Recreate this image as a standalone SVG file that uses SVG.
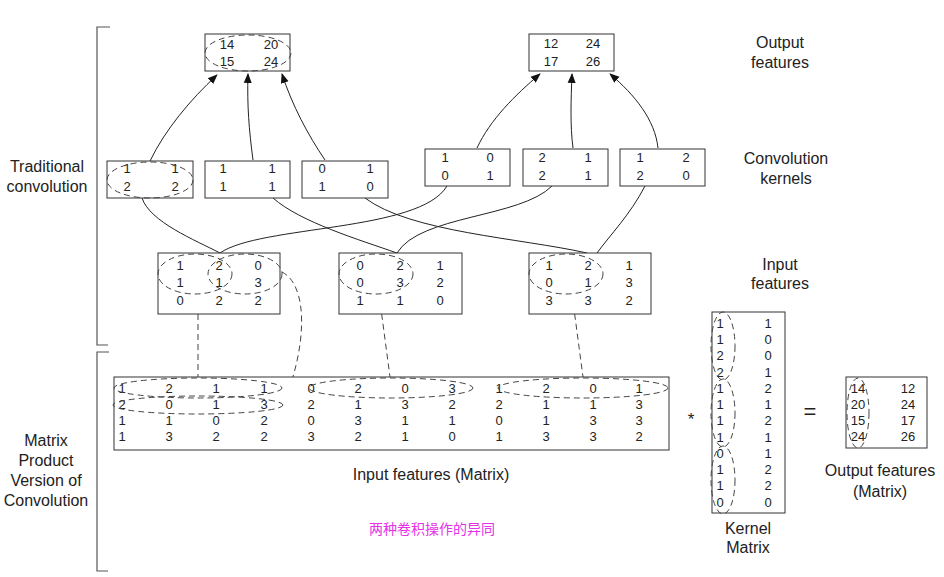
<svg xmlns="http://www.w3.org/2000/svg" width="944" height="577" viewBox="0 0 944 577">
<defs>
<style>
.box{fill:#fff;stroke:#333;stroke-width:1}
.n{font-family:"Liberation Sans",Arial,sans-serif;font-size:13px;fill:#222;text-anchor:middle}
.lbl{font-family:"Liberation Sans",Arial,sans-serif;font-size:16px;fill:#222;text-anchor:middle}
.dash{fill:none;stroke:#444;stroke-width:1;stroke-dasharray:6 4}
.wire{fill:none;stroke:#222;stroke-width:1}
.arr{fill:none;stroke:#222;stroke-width:1;marker-end:url(#ah)}
.br{fill:none;stroke:#555;stroke-width:1.2}
</style>
<marker id="ah" viewBox="0 0 10 10" refX="9" refY="5" markerWidth="10" markerHeight="10" markerUnits="userSpaceOnUse" orient="auto">
<path d="M0,1 L10,5 L0,9 z" fill="#111"/>
</marker>
</defs>
<rect width="944" height="577" fill="#fff"/>

<g id="brackets">
<path class="br" d="M110,27 H97 V345 H108"/>
<path class="br" d="M109,352 H97 V571 H108"/>
</g>

<g id="labels">
<text class="lbl" x="47" y="172">Traditional</text>
<text class="lbl" x="47" y="192">convolution</text>
<text class="lbl" x="46" y="446">Matrix</text>
<text class="lbl" x="46" y="466">Product</text>
<text class="lbl" x="46" y="486">Version of</text>
<text class="lbl" x="46" y="506">Convolution</text>
<text class="lbl" x="780" y="48">Output</text>
<text class="lbl" x="780" y="68">features</text>
<text class="lbl" x="786" y="164">Convolution</text>
<text class="lbl" x="786" y="184">kernels</text>
<text class="lbl" x="780" y="270">Input</text>
<text class="lbl" x="780" y="289">features</text>
<text class="lbl" x="431" y="480">Input features (Matrix)</text>
<text class="lbl" x="880" y="476">Output features</text>
<text class="lbl" x="880" y="497">(Matrix)</text>
<text class="lbl" x="748" y="534">Kernel</text>
<text class="lbl" x="748" y="553">Matrix</text>
<text x="432" y="534" style="font-family:'Liberation Sans','Noto Sans CJK SC',sans-serif;font-size:14px;fill:#e632e6;text-anchor:middle">两种卷积操作的异同</text>
<text class="lbl" x="691" y="425" style="font-size:17px">*</text>
<text class="lbl" x="810" y="419" style="font-size:22px">=</text>
</g>

<g id="connectors">
<path class="arr" d="M150,161 C165,130 190,100 217,75"/>
<path class="arr" d="M253,160 C249,130 247,105 248,74"/>
<path class="arr" d="M325,160 C308,135 292,105 282,74"/>
<path class="arr" d="M477,148 C490,120 515,95 540,74"/>
<path class="arr" d="M573,148 C570,125 571,100 572,74"/>
<path class="arr" d="M658,148 C655,120 635,95 610,74"/>
<path class="wire" d="M142,198 C150,222 195,240 220,253"/>
<path class="wire" d="M273,198 C300,222 360,240 397,253"/>
<path class="wire" d="M365,198 C410,232 520,238 587,253"/>
<path class="wire" d="M447,186 C420,232 260,225 220,253"/>
<path class="wire" d="M552,186 C520,218 420,215 397,253"/>
<path class="wire" d="M645,186 C630,215 610,235 597,253"/>
<path class="dash" d="M198,294 L198,377"/>
<path class="dash" d="M379,294 L390,377"/>
<path class="dash" d="M572,294 L583,377"/>
<path class="dash" d="M282,272 C308,285 308,345 283,405"/>
</g>

<g id="out-trad-1">
<rect class="box" x="205" y="34" width="85" height="37"/>
<text class="n" x="227" y="49">14</text><text class="n" x="271" y="49">20</text>
<text class="n" x="227" y="66">15</text><text class="n" x="271" y="66">24</text>
<ellipse class="dash" cx="248" cy="53" rx="43" ry="18"/>
</g>
<g id="out-trad-2">
<rect class="box" x="529" y="34" width="85" height="37"/>
<text class="n" x="551" y="48">12</text><text class="n" x="593" y="48">24</text>
<text class="n" x="551" y="66">17</text><text class="n" x="593" y="66">26</text>
</g>

<g id="kernel-1">
<rect class="box" x="107" y="161" width="86" height="37"/>
<text class="n" x="127" y="173">1</text><text class="n" x="175" y="173">1</text>
<text class="n" x="127" y="191">2</text><text class="n" x="175" y="191">2</text>
<ellipse class="dash" cx="150" cy="180" rx="43" ry="18"/>
</g>
<g id="kernel-2">
<rect class="box" x="205" y="161" width="85" height="37"/>
<text class="n" x="223" y="173">1</text><text class="n" x="272" y="173">1</text>
<text class="n" x="223" y="191">1</text><text class="n" x="272" y="191">1</text>
</g>
<g id="kernel-3">
<rect class="box" x="302" y="161" width="86" height="37"/>
<text class="n" x="322" y="173">0</text><text class="n" x="370" y="173">1</text>
<text class="n" x="322" y="191">1</text><text class="n" x="370" y="191">0</text>
</g>
<g id="kernel-4">
<rect class="box" x="425" y="149" width="85" height="37"/>
<text class="n" x="445" y="162">1</text><text class="n" x="490" y="162">0</text>
<text class="n" x="445" y="180">0</text><text class="n" x="490" y="180">1</text>
</g>
<g id="kernel-5">
<rect class="box" x="523" y="149" width="85" height="37"/>
<text class="n" x="542" y="162">2</text><text class="n" x="588" y="162">1</text>
<text class="n" x="542" y="180">2</text><text class="n" x="588" y="180">1</text>
</g>
<g id="kernel-6">
<rect class="box" x="620" y="149" width="85" height="37"/>
<text class="n" x="640" y="162">1</text><text class="n" x="686" y="162">2</text>
<text class="n" x="640" y="180">2</text><text class="n" x="686" y="180">0</text>
</g>

<g id="input-1">
<rect class="box" x="158" y="253" width="122" height="61"/>
<text class="n" x="180" y="270">1</text><text class="n" x="219" y="270">2</text><text class="n" x="258" y="270">0</text>
<text class="n" x="180" y="287">1</text><text class="n" x="219" y="287">1</text><text class="n" x="258" y="287">3</text>
<text class="n" x="180" y="305">0</text><text class="n" x="219" y="305">2</text><text class="n" x="258" y="305">2</text>
<ellipse class="dash" cx="195" cy="274" rx="37" ry="20"/>
<ellipse class="dash" cx="245" cy="274" rx="37" ry="20"/>
</g>
<g id="input-2">
<rect class="box" x="339" y="253" width="123" height="61"/>
<text class="n" x="360" y="270">0</text><text class="n" x="400" y="270">2</text><text class="n" x="440" y="270">1</text>
<text class="n" x="360" y="287">0</text><text class="n" x="400" y="287">3</text><text class="n" x="440" y="287">2</text>
<text class="n" x="360" y="305">1</text><text class="n" x="400" y="305">1</text><text class="n" x="440" y="305">0</text>
<ellipse class="dash" cx="376" cy="274" rx="37" ry="20"/>
</g>
<g id="input-3">
<rect class="box" x="529" y="253" width="122" height="61"/>
<text class="n" x="549" y="270">1</text><text class="n" x="588" y="270">2</text><text class="n" x="629" y="270">1</text>
<text class="n" x="549" y="287">0</text><text class="n" x="588" y="287">1</text><text class="n" x="629" y="287">3</text>
<text class="n" x="549" y="305">3</text><text class="n" x="588" y="305">3</text><text class="n" x="629" y="305">2</text>
<ellipse class="dash" cx="566" cy="274" rx="37" ry="20"/>
</g>

<g id="input-matrix">
<rect class="box" x="114" y="377" width="555" height="73"/>
<g class="n">
<text x="122" y="393">1</text><text x="169" y="393">2</text><text x="216" y="393">1</text><text x="264" y="393">1</text><text x="311" y="393">0</text><text x="358" y="393">2</text><text x="405" y="393">0</text><text x="452" y="393">3</text><text x="499" y="393">1</text><text x="546" y="393">2</text><text x="593" y="393">0</text><text x="639" y="393">1</text>
<text x="122" y="409">2</text><text x="169" y="409">0</text><text x="216" y="409">1</text><text x="264" y="409">3</text><text x="311" y="409">2</text><text x="358" y="409">1</text><text x="405" y="409">3</text><text x="452" y="409">2</text><text x="499" y="409">2</text><text x="546" y="409">1</text><text x="593" y="409">1</text><text x="639" y="409">3</text>
<text x="122" y="425">1</text><text x="169" y="425">1</text><text x="216" y="425">0</text><text x="264" y="425">2</text><text x="311" y="425">0</text><text x="358" y="425">3</text><text x="405" y="425">1</text><text x="452" y="425">1</text><text x="499" y="425">0</text><text x="546" y="425">1</text><text x="593" y="425">3</text><text x="639" y="425">3</text>
<text x="122" y="441">1</text><text x="169" y="441">3</text><text x="216" y="441">2</text><text x="264" y="441">2</text><text x="311" y="441">3</text><text x="358" y="441">2</text><text x="405" y="441">1</text><text x="452" y="441">0</text><text x="499" y="441">1</text><text x="546" y="441">3</text><text x="593" y="441">3</text><text x="639" y="441">2</text>
</g>
<ellipse class="dash" cx="198" cy="388" rx="84" ry="10"/>
<ellipse class="dash" cx="198" cy="405" rx="85" ry="9"/>
<ellipse class="dash" cx="391" cy="388" rx="82" ry="10"/>
<ellipse class="dash" cx="583" cy="388" rx="85" ry="10"/>
</g>

<g id="kernel-matrix">
<rect class="box" x="712" y="312" width="73" height="201"/>
<g class="n">
<text x="720" y="328">1</text><text x="768" y="328">1</text>
<text x="720" y="344">1</text><text x="768" y="344">0</text>
<text x="720" y="360">2</text><text x="768" y="360">0</text>
<text x="720" y="377">2</text><text x="768" y="377">1</text>
<text x="720" y="393">1</text><text x="768" y="393">2</text>
<text x="720" y="409">1</text><text x="768" y="409">1</text>
<text x="720" y="425">1</text><text x="768" y="425">2</text>
<text x="720" y="442">1</text><text x="768" y="442">1</text>
<text x="720" y="458">0</text><text x="768" y="458">1</text>
<text x="720" y="474">1</text><text x="768" y="474">2</text>
<text x="720" y="490">1</text><text x="768" y="490">2</text>
<text x="720" y="507">0</text><text x="768" y="507">0</text>
</g>
<ellipse class="dash" cx="723" cy="346" rx="12" ry="34"/>
<ellipse class="dash" cx="723" cy="413" rx="12" ry="34"/>
<ellipse class="dash" cx="723" cy="480" rx="12" ry="34"/>
</g>

<g id="output-matrix">
<rect class="box" x="846" y="377" width="81" height="71"/>
<g class="n">
<text x="858" y="393">14</text><text x="908" y="393">12</text>
<text x="858" y="409">20</text><text x="908" y="409">24</text>
<text x="858" y="425">15</text><text x="908" y="425">17</text>
<text x="858" y="441">24</text><text x="908" y="441">26</text>
</g>
<ellipse class="dash" cx="858" cy="413" rx="11" ry="35"/>
</g>
</svg>
